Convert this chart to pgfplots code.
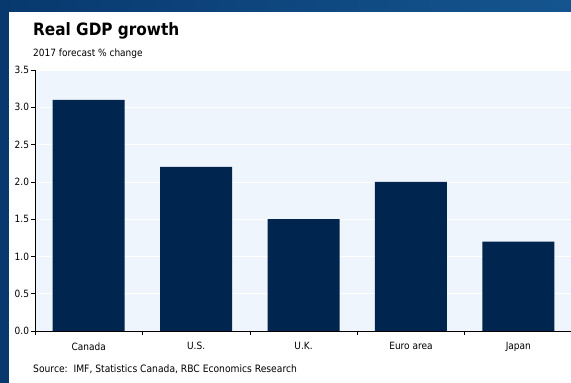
\documentclass[border=0pt]{standalone}
\usepackage{pgfplots}
\pgfplotsset{compat=1.18}
\usepackage{fontspec}
\setmainfont{DejaVu Sans Condensed}
\definecolor{navy}{HTML}{002650}
\definecolor{plotbg}{HTML}{EEF5FC}
\definecolor{bgdark}{HTML}{07396E}
\definecolor{bglight}{HTML}{15558F}
\begin{document}
\begin{tikzpicture}
\useasboundingbox (0,0) rectangle (571bp,383bp);
\shade[left color=bgdark, right color=bglight] (0,0) rectangle (571bp,383bp);
\fill[white] (9bp,0) rectangle (571bp,371bp);
\node[anchor=base west, font=\bfseries\fontsize{17bp}{20bp}\selectfont, inner sep=0] at (33bp,347bp) {Real GDP growth};
\node[anchor=base west, font=\fontsize{10bp}{12bp}\selectfont, inner sep=0] at (33bp,326bp) {2017 forecast \% change};
\node[anchor=base west, font=\fontsize{10.2bp}{12bp}\selectfont, inner sep=0] at (33bp,11bp) {Source:\ \ IMF, Statistics Canada, RBC Economics Research};
\begin{axis}[
  at={(35bp,52bp)}, anchor=south west,
  scale only axis, width=536bp, height=261bp,
  xmin=-0.5, xmax=4.49, ymin=0, ymax=3.5,
  axis lines=left, axis line style={black, line width=0.8pt, -},
  axis background/.style={fill=plotbg},
  ytick={0,0.5,...,3.5},
  /pgf/number format/fixed,
  /pgf/number format/fixed zerofill,
  /pgf/number format/precision=1,
  /pgf/number format/assume math mode=true,
  ymajorgrids, grid style={white, line width=0.6pt},
  xtick={0,1,2,3,4},
  xticklabels={Canada,U.S.,U.K.,Euro area,Japan},
  minor xtick={-0.5,0.5,1.5,2.5,3.5},
  x tick style={draw=none},
  minor x tick style={draw=black, line width=0.6pt},
  minor tick length=4bp,
  y tick style={black, line width=0.6pt},
  major tick length=4bp,
  tick align=outside,
  ticklabel style={font=\fontsize{10bp}{12bp}\selectfont},
  xticklabel style={yshift=-4bp},
  yticklabel style={xshift=1.5bp},
  clip=false,
]
\addplot[ybar, bar width=0.67, fill=navy, draw=none] coordinates {(0,3.1) (1,2.2) (2,1.5) (3,2.0) (4,1.2)};
\end{axis}
\end{tikzpicture}
\end{document}
